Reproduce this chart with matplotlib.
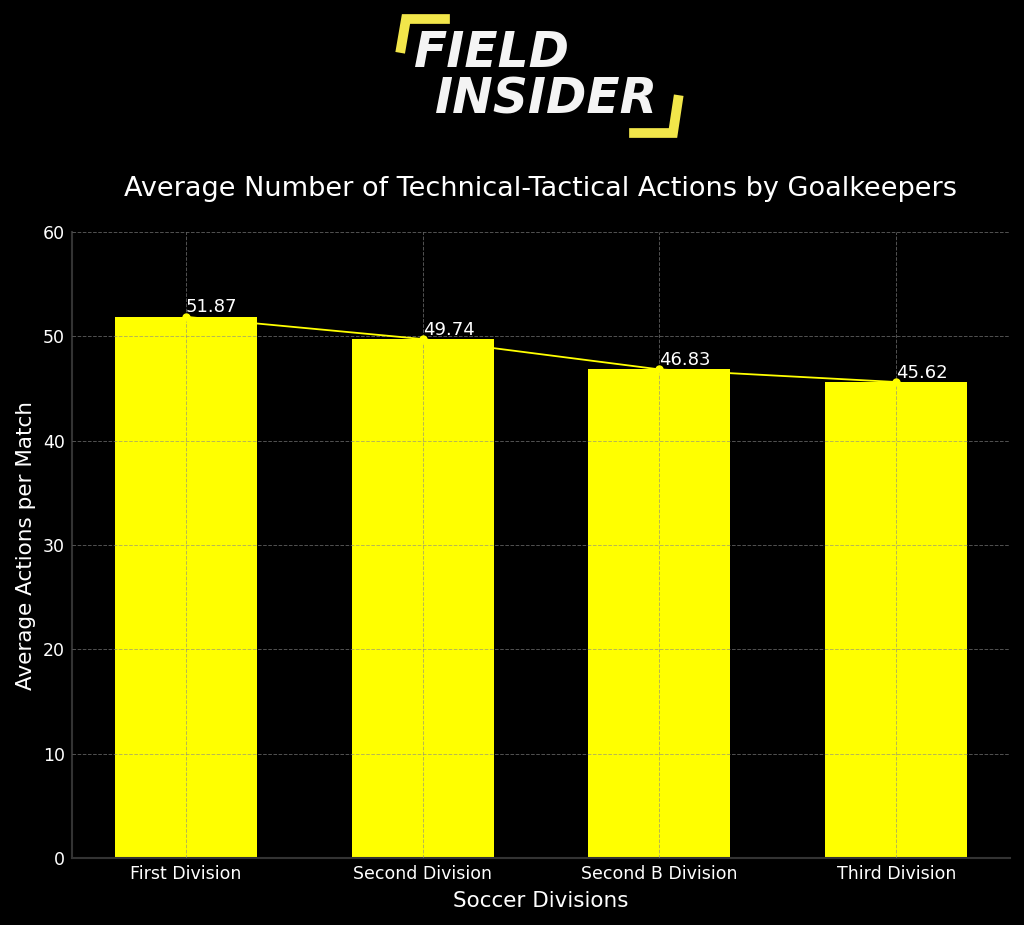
import numpy as np
import matplotlib.pyplot as plt
from matplotlib.lines import Line2D


OUTFILE = "out.png"

DIVISIONS = ['First Division', 'Second Division', 'Second B Division', 'Third Division']
ACTIONS = [51.87, 49.74, 46.83, 45.62]
YTICKS = [0, 10, 20, 30, 40, 50, 60]

YELLOW = '#ffff00'
LOGO_YELLOW = '#f2e64a'
W, H = 1024, 925

fig = plt.figure(figsize=(W / 100, H / 100), dpi=100, facecolor='black')
ax = fig.add_axes([72 / W, 1 - 858 / H, (1010 - 72) / W, (858 - 232) / H])
ax.set_facecolor('black')

x = np.arange(len(DIVISIONS))
ax.bar(x, ACTIONS, width=0.6, color=YELLOW, zorder=2)
ax.plot(x, ACTIONS, color=YELLOW, lw=1.3, marker='o', ms=5, zorder=3)
for xi, v in zip(x, ACTIONS):
    ax.text(xi, v + 0.05, f'{v:.2f}', color='white', fontsize=13, ha='left', va='bottom', zorder=4)

ax.set_ylim(0, 60)
ax.set_yticks(YTICKS)
ax.set_xticks(x)
ax.set_xticklabels(DIVISIONS)
ax.tick_params(colors='white', labelsize=12.5, length=0, pad=5)
ax.grid(True, color='#888888', ls='--', lw=0.7, alpha=0.6, zorder=5)
ax.set_axisbelow(False)
for s in ['top', 'right']:
    ax.spines[s].set_visible(False)
for s in ['left', 'bottom']:
    ax.spines[s].set_color('#333333')
    ax.spines[s].set_linewidth(1.5)

ax.set_xlabel('Soccer Divisions', color='white', fontsize=15.5, labelpad=6)
ax.set_ylabel('Average Actions per Match', color='white', fontsize=15.5, labelpad=5)
ax.set_title('Average Number of Technical-Tactical Actions by Goalkeepers',
             color='white', fontsize=19.5, pad=26)

# logo
fig.text(414 / W, 1 - 53 / H, 'FIELD', color='#f4f4f4', fontsize=35, fontweight='heavy',
         style='italic', ha='left', va='center')
fig.text(435 / W, 1 - 99 / H, 'INSIDER', color='#f4f4f4', fontsize=35, fontweight='heavy',
         style='italic', ha='left', va='center')
fig.add_artist(Line2D([445 / W, 406 / W, 401 / W], [1 - 19 / H, 1 - 19 / H, 1 - 48 / H],
                      color=LOGO_YELLOW, lw=7, solid_joinstyle='miter'))
fig.add_artist(Line2D([678 / W, 673 / W, 634 / W], [1 - 100 / H, 1 - 133 / H, 1 - 133 / H],
                      color=LOGO_YELLOW, lw=7, solid_joinstyle='miter'))

fig.savefig(OUTFILE, facecolor='black')
